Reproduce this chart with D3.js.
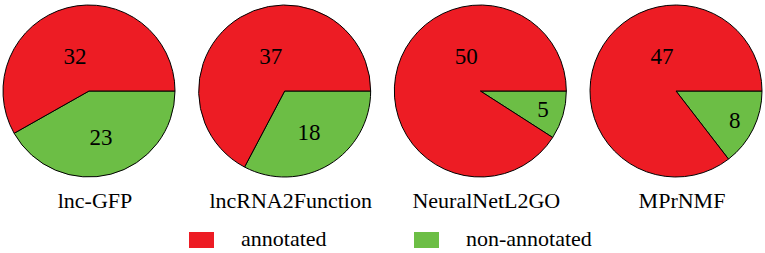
<!DOCTYPE html>
<html lang="en">
<head>
    <meta charset="UTF-8">
    <title>Annotated vs non-annotated lncRNAs</title>
    <script src="https://d3js.org/d3.v7.min.js"></script>
    <style>
        body { margin: 0; background: #fff; }
        svg text { font-family: "Liberation Serif", "Times New Roman", serif; fill: #000; }
    </style>
</head>
<body>
    <svg id="chart" width="765" height="253"></svg>

    <script>
        // dữ liệu
        const methods = ["lnc-GFP", "lncRNA2Function", "NeuralNetL2GO", "MPrNMF"];
        const annotated = [32, 37, 50, 47];
        const nonAnnotated = [23, 18, 5, 8];
        const categories = ["non-annotated", "annotated"];
        const colors = { "annotated": "#ED1C24", "non-annotated": "#6CBE45" };

        const svg = d3.select("#chart");
        const r = 86;

        const x = d3.scalePoint().domain(methods).range([89, 676]);
        const cy = 91;

        // green starts at 3 o'clock, goes clockwise
        const pie = d3.pie()
            .sort(null)
            .value(d => d.value)
            .startAngle(Math.PI / 2)
            .endAngle(Math.PI / 2 + 2 * Math.PI);

        const arc = d3.arc().innerRadius(0).outerRadius(r);

        methods.forEach((m, i) => {
            const data = [
                { cat: "non-annotated", value: nonAnnotated[i] },
                { cat: "annotated", value: annotated[i] }
            ];
            const g = svg.append("g").attr("transform", `translate(${x(m)},${cy})`);
            const arcs = pie(data);

            g.selectAll("path")
                .data(arcs)
                .enter()
                .append("path")
                .attr("d", arc)
                .attr("fill", d => colors[d.data.cat])
                .attr("stroke", "#000")
                .attr("stroke-width", 1);

            // nhãn số
            g.selectAll(".lbl")
                .data(arcs)
                .enter()
                .append("text")
                .attr("class", "lbl")
                .attr("text-anchor", "middle")
                .attr("font-size", 23)
                .attr("transform", d => {
                    const span = d.endAngle - d.startAngle;
                    let a, rr;
                    if (span > Math.PI) { a = -0.38; rr = r * 0.44; }
                    else {
                        a = (d.startAngle + d.endAngle) / 2;
                        rr = span > Math.PI / 2 ? r * 0.55 : r * 0.76;
                    }
                    return `translate(${Math.sin(a) * rr},${-Math.cos(a) * rr + 8})`;
                })
                .text(d => d.data.value);

            svg.append("text")
                .attr("x", x(m) + 6)
                .attr("y", 208)
                .attr("text-anchor", "middle")
                .attr("font-size", 22)
                .text(m);
        });

        // chú thích
        const legendX = d3.scalePoint().domain(["annotated", "non-annotated"]).range([189, 414]);
        const legend = svg.selectAll(".legend")
            .data(["annotated", "non-annotated"])
            .enter()
            .append("g")
            .attr("transform", d => `translate(${legendX(d)},232)`);

        legend.append("rect")
            .attr("width", 25)
            .attr("height", 16)
            .attr("fill", d => colors[d]);

        legend.append("text")
            .attr("x", 52)
            .attr("y", 14)
            .attr("font-size", 22)
            .text(d => d);
    </script>
</body>
</html>
